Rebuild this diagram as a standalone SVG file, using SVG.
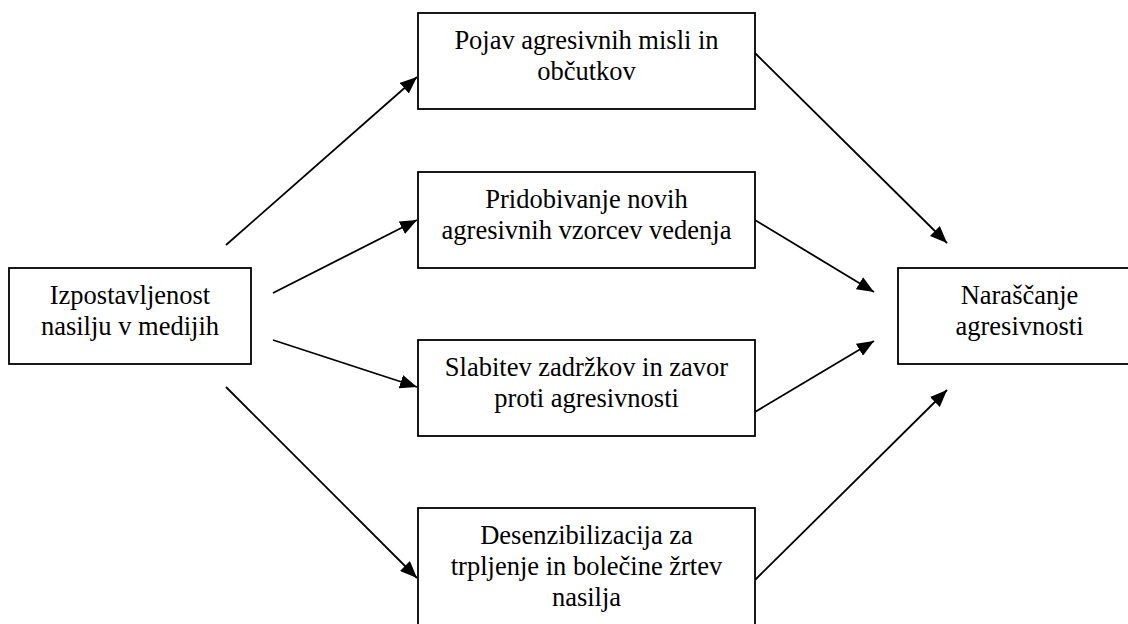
<svg xmlns="http://www.w3.org/2000/svg" width="1128" height="624" viewBox="0 0 1128 624">
<style>
.box{fill:#fff;stroke:#000;stroke-width:1.8}
.t{font-family:"Liberation Serif","Times New Roman",serif;font-size:26.5px;fill:#000;text-anchor:middle}
.c{stroke:#000;stroke-width:1.8;fill:none;marker-end:url(#ah)}
</style>
<defs>
<marker id="ah" markerUnits="userSpaceOnUse" markerWidth="18" markerHeight="14" refX="17" refY="7" orient="auto">
<path d="M0,0 L17,7 L0,14 z" fill="#000"/>
</marker>
</defs>
<rect width="1128" height="624" fill="#fff"/>
<g id="connectors">
<line class="c" x1="226" y1="245" x2="417" y2="77"/>
<line class="c" x1="273" y1="293" x2="417" y2="220"/>
<line class="c" x1="273" y1="340" x2="417" y2="387"/>
<line class="c" x1="226" y1="387" x2="417" y2="578"/>
<line class="c" x1="755" y1="53" x2="947" y2="243"/>
<line class="c" x1="755" y1="220" x2="874" y2="292"/>
<line class="c" x1="755" y1="412" x2="874" y2="341"/>
<line class="c" x1="755" y1="580" x2="947" y2="390"/>
</g>
<g id="izpostavljenost">
<rect class="box" x="9" y="268" width="242" height="96"/>
<text class="t" x="130" y="304">Izpostavljenost</text>
<text class="t" x="130" y="335">nasilju v medijih</text>
</g>
<g id="pojav">
<rect class="box" x="418" y="13" width="337" height="96"/>
<text class="t" x="586.5" y="49">Pojav agresivnih misli in</text>
<text class="t" x="586.5" y="80">občutkov</text>
</g>
<g id="pridobivanje">
<rect class="box" x="418" y="172" width="337" height="96"/>
<text class="t" x="586.5" y="208">Pridobivanje novih</text>
<text class="t" x="586.5" y="239">agresivnih vzorcev vedenja</text>
</g>
<g id="slabitev">
<rect class="box" x="418" y="340" width="337" height="96"/>
<text class="t" x="586.5" y="376">Slabitev zadržkov in zavor</text>
<text class="t" x="586.5" y="407">proti agresivnosti</text>
</g>
<g id="desenzibilizacija">
<rect class="box" x="418" y="508" width="337" height="130"/>
<text class="t" x="586.5" y="544">Desenzibilizacija za</text>
<text class="t" x="586.5" y="575">trpljenje in bolečine žrtev</text>
<text class="t" x="586.5" y="606">nasilja</text>
</g>
<g id="narascanje">
<rect class="box" x="898" y="268" width="243" height="96"/>
<text class="t" x="1019.5" y="304">Naraščanje</text>
<text class="t" x="1019.5" y="335">agresivnosti</text>
</g>
</svg>
